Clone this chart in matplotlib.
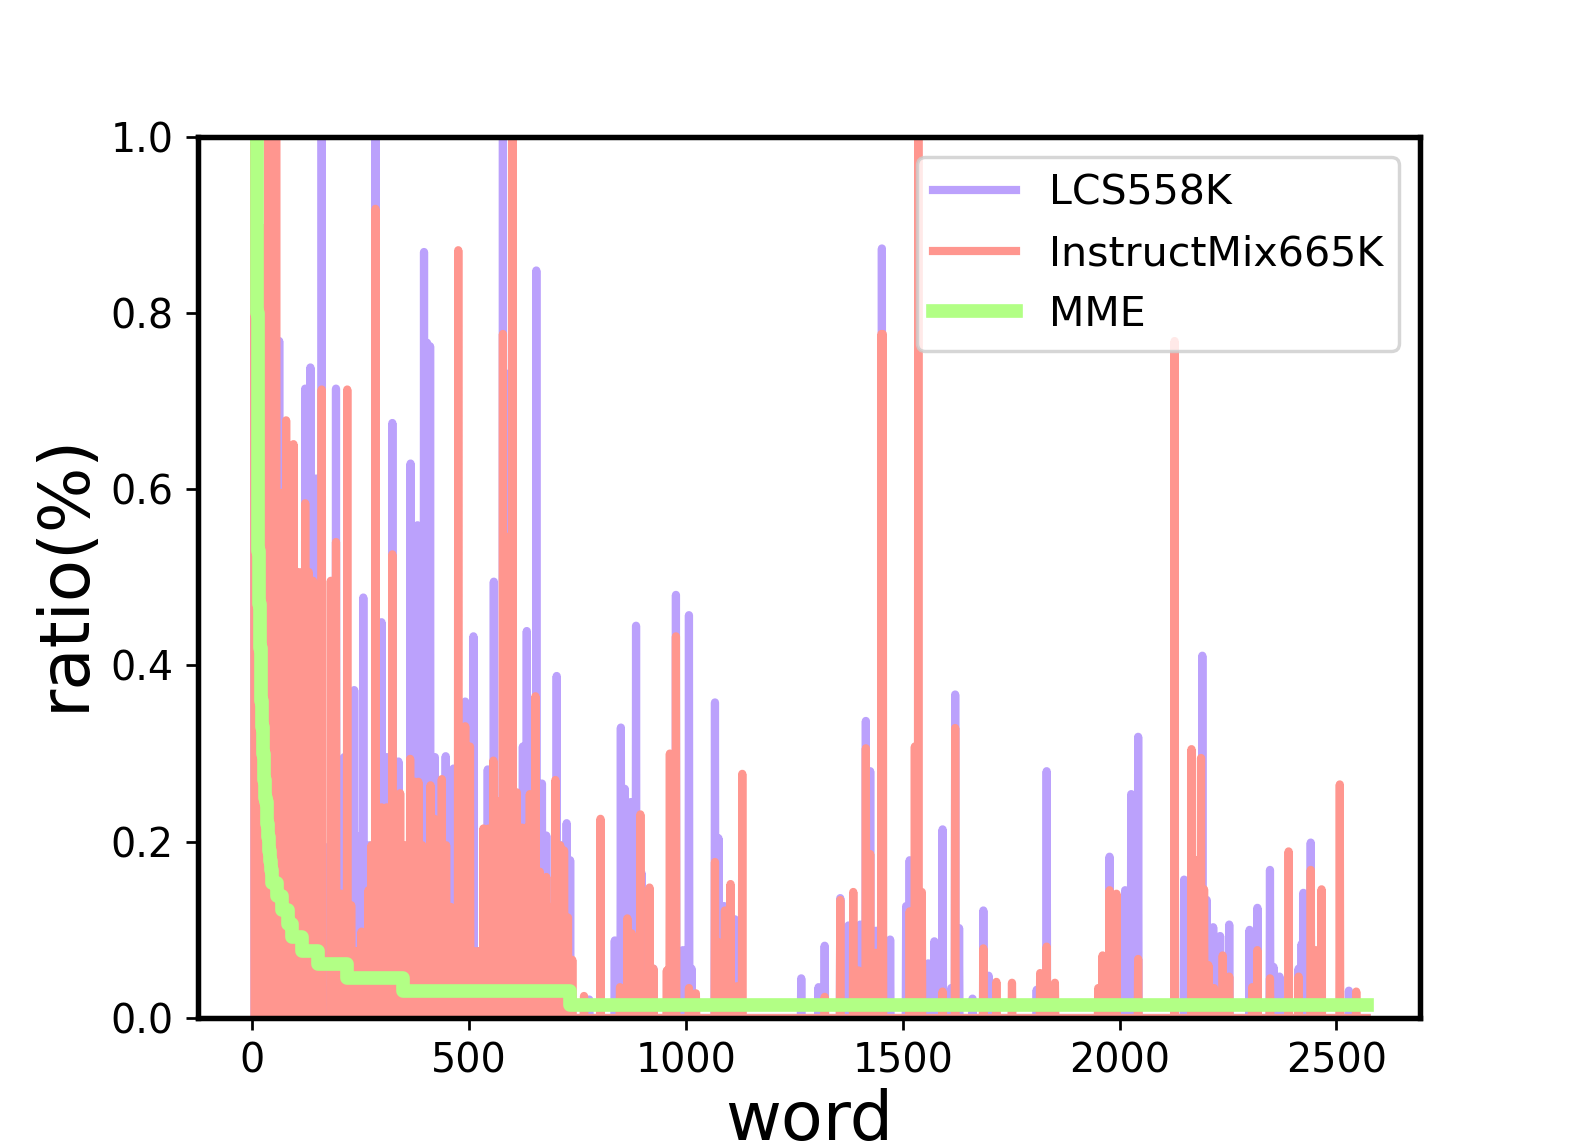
import matplotlib
matplotlib.use("Agg")
import matplotlib.pyplot as plt
import numpy as np

# values, all other words are ~0
n_words = 2571
first_word = 4
cap = 0.004  # line joins stick out above the value that was read

lcs_words = [4, 12, 30, 48, 62, 80, 100, 110, 122, 134, 147, 160, 175, 193, 204, 212, 235, 245, 256, 270,
             284, 298, 310, 323, 337, 356, 365, 372, 381, 388, 396, 403, 410, 421, 438, 446, 464, 491, 510,
             543, 557, 578, 591, 624, 633, 655, 668, 678, 702, 715, 725, 733, 777,
             836, 850, 859, 873, 885, 898, 925, 977, 993, 1007, 1013, 1067, 1075, 1088, 1113,
             1266, 1306, 1320, 1356, 1375, 1402, 1415, 1425, 1439, 1452, 1471, 1508, 1516, 1559, 1573, 1592,
             1612, 1621, 1630, 1661, 1686, 1698, 1809, 1832,
             1977, 2013, 2027, 2043, 2149, 2191, 2201, 2216, 2232, 2253,
             2300, 2318, 2347, 2355, 2369, 2413, 2420, 2424, 2441, 2529]
lcs_ratio = [1.2, 1.2, 0.4, 0.5, 0.772, 0.5, 0.48, 0.5, 0.718, 0.742, 0.616, 1.2, 0.198, 0.718, 0.25, 0.3, 0.376, 0.21, 0.481, 0.2,
             1.2, 0.453, 0.3, 0.679, 0.295, 0.19, 0.633, 0.55, 0.563, 0.56, 0.873, 0.77, 0.766, 0.3, 0.2, 0.301, 0.287, 0.363, 0.437,
             0.286, 0.499, 1.2, 0.735, 0.312, 0.443, 0.852, 0.27, 0.211, 0.392, 0.2, 0.225, 0.183, 0.025,
             0.092, 0.3335, 0.264, 0.249, 0.449, 0.168, 0.06, 0.484, 0.081, 0.461, 0.06, 0.362, 0.208, 0.131, 0.116,
             0.049, 0.039, 0.086, 0.14, 0.109, 0.11, 0.341, 0.284, 0.103, 0.877, 0.093, 0.131, 0.183, 0.066, 0.091, 0.218,
             0.038, 0.371, 0.106, 0.026, 0.126, 0.052, 0.036, 0.284,
             0.187, 0.149, 0.258, 0.323, 0.161, 0.415, 0.138, 0.107, 0.097, 0.11,
             0.104, 0.129, 0.172, 0.062, 0.051, 0.06, 0.088, 0.146, 0.203, 0.035]

mix_words = [4, 8, 15, 25, 36, 44, 50, 55, 70, 78, 88, 95, 105, 115, 122, 130, 140, 150, 160,
             181, 193, 205, 219, 228, 240, 252, 268, 275, 284, 298, 310, 323, 335, 341, 352, 364, 375, 383, 392, 403,
             411, 420, 437, 447, 458, 464, 475, 491, 502, 512, 522, 533, 545, 556, 566, 578, 591, 600, 610, 622, 632, 640,
             653, 663, 678, 690, 699, 710, 719, 728, 738, 765, 803,
             848, 865, 875, 886, 895, 905, 916, 925, 956, 963, 977, 1007, 1023, 1067, 1075, 1090, 1103, 1117, 1130,
             1320, 1356, 1386, 1398, 1415, 1425, 1439, 1451, 1454, 1516, 1528, 1536, 1544, 1592, 1621, 1686, 1716, 1752,
             1817, 1832, 1851, 1951, 1961, 1977, 1993, 2043, 2127, 2166, 2178, 2188, 2195, 2205, 2218, 2238, 2253,
             2306, 2318, 2347, 2390, 2413, 2441, 2453, 2466, 2508, 2546]
mix_ratio = [1.2, 0.9, 0.9, 0.9, 1.2, 1.2, 1.2, 1.2, 0.6, 0.682, 0.6, 0.655, 0.51, 0.51, 0.588, 0.51, 0.5, 0.49, 0.717,
             0.5, 0.544, 0.145, 0.717, 0.132, 0.08, 0.102, 0.149, 0.2, 0.922, 0.243, 0.243, 0.53, 0.24, 0.259, 0.2, 0.298, 0.272, 0.272, 0.2, 0.1,
             0.268, 0.23, 0.275, 0.2, 0.13, 0.115, 0.875, 0.335, 0.312, 0.08, 0.08, 0.219, 0.219, 0.296, 0.25, 0.78, 0.55, 1.2, 0.26, 0.22, 0.22, 0.258,
             0.369, 0.17, 0.164, 0.13, 0.274, 0.2, 0.194, 0.118, 0.07, 0.029, 0.23,
             0.039, 0.117, 0.1, 0.066, 0.235, 0.05, 0.152, 0.06, 0.058, 0.304, 0.437, 0.038, 0.032, 0.181, 0.09, 0.126, 0.156, 0.04, 0.281,
             0.028, 0.138, 0.147, 0.058, 0.31, 0.19, 0.078, 0.78, 0.78, 0.125, 0.312, 1.2, 0.147, 0.034, 0.333, 0.083, 0.045, 0.044,
             0.055, 0.085, 0.044, 0.038, 0.075, 0.149, 0.145, 0.071, 0.772, 0.309, 0.183, 0.299, 0.15, 0.064, 0.038, 0.075, 0.051,
             0.039, 0.081, 0.049, 0.193, 0.051, 0.172, 0.081, 0.15, 0.269, 0.034]

mme_words = [4, 6, 9, 11, 13, 14, 15, 16, 17, 18, 19, 20, 21, 22, 23, 24, 25, 26, 27, 28, 29, 30, 31, 33, 35, 37, 39, 41, 43,
             45, 58, 68, 83, 91, 114, 152, 218, 348, 733, 2570]
mme_ratio = [1.5, 1.2, 1.0, 0.8, 0.6, 0.53, 0.5, 0.47, 0.44, 0.42, 0.4, 0.38, 0.36, 0.345, 0.33, 0.315, 0.3, 0.29, 0.28, 0.27,
             0.26, 0.25, 0.245, 0.235, 0.22, 0.205, 0.19, 0.178, 0.168,
             0.153, 0.138, 0.122, 0.107, 0.092, 0.0765, 0.0612, 0.0459, 0.0306, 0.0153, 0.0153]

yticks = [0.0, 0.2, 0.4, 0.6, 0.8, 1.0]
xticks = [0, 500, 1000, 1500, 2000, 2500]


def word_curve(words, ratio):
    """ per word ratio, zero where no word was read """
    curve = np.zeros(n_words)
    curve[words] = np.maximum(np.asarray(ratio) - cap, 0)
    return curve[first_word:]


dpi = 246
fig = plt.figure(figsize=(1578 / dpi, 1144 / dpi), dpi=dpi)
ax = fig.add_axes([197.5 / 1578, 1 - 1018 / 1144, 1222.5 / 1578, 881.5 / 1144])

xx = np.arange(first_word, n_words)
ax.plot(xx, word_curve(lcs_words, lcs_ratio), color='#bba1fc', lw=2.4, label='LCS558K')
ax.plot(xx, word_curve(mix_words, mix_ratio), color='#ff968f', lw=2.4, label='InstructMix665K')
ax.plot(mme_words, mme_ratio, color='#b2ff85', lw=4, drawstyle='steps-post', label='MME')

ax.set_xlim(-126.4, 2693)
ax.set_ylim(0, 1)
ax.set_xticks(xticks)
ax.set_yticks(yticks)
ax.tick_params(labelsize=11.6)
for spine in ax.spines.values():
    spine.set_linewidth(1.6)

ax.set_xlabel('word', fontsize=20, labelpad=1.7)
ax.set_ylabel('ratio(%)', fontsize=20.2)
ax.yaxis.set_label_coords(-0.0815, 0.506)
ax.legend(loc='upper right', fontsize=12.05)

fig.savefig('out.png', dpi=dpi)
